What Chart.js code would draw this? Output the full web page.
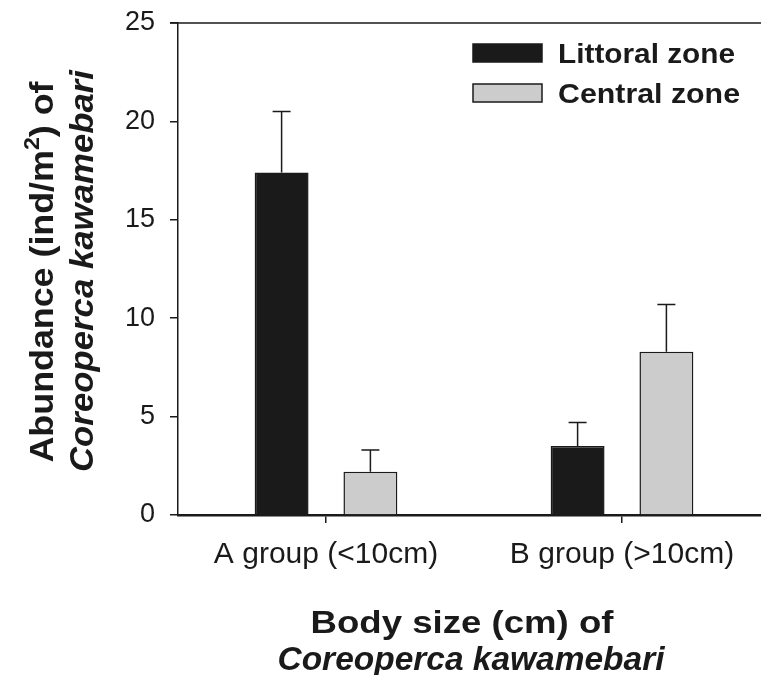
<!DOCTYPE html>
<html>
<head>
<meta charset="utf-8">
<script src="https://cdn.jsdelivr.net/npm/chart.js@4"></script>
<style>
  html, body { margin: 0; padding: 0; background: #fff; overflow: hidden; }
  #wrap { width: 770px; height: 675px; }
</style>
</head>
<body>
<div id="wrap"><canvas id="abundanceChart" width="770" height="675"></canvas></div>
<script>
// values
const groups = ["A group (<10cm)", "B group (>10cm)"];
const littoral = [17.4, 3.5];
const littoralErr = [3.1, 1.2];
const central = [2.2, 8.3];
const centralErr = [1.1, 2.4];
const yTicks = [0, 5, 10, 15, 20, 25];

const ink = "#1a1a1a";
const sans = "'Liberation Sans', Arial, sans-serif";

// draw text centred on cx, squeezed/stretched to a given width
function fitText(ctx, text, cx, baseY, font, width) {
    ctx.save();
    ctx.font = font;
    const w = ctx.measureText(text).width;
    const sx = width / w;
    ctx.translate(cx, baseY);
    ctx.scale(sx, 1);
    ctx.textAlign = "center";
    ctx.textBaseline = "alphabetic";
    ctx.fillStyle = ink;
    ctx.fillText(text, 0, 0);
    ctx.restore();
}

const errorBars = {
    id: "errorBars",
    afterDatasetsDraw(chart) {
        const ctx = chart.ctx;
        const yScale = chart.scales.y;
        const errs = [littoralErr, centralErr];
        ctx.save();
        ctx.strokeStyle = ink;
        ctx.lineWidth = 1.5;
        chart.data.datasets.forEach(function (ds, i) {
            const meta = chart.getDatasetMeta(i);
            meta.data.forEach(function (bar, j) {
                const top = yScale.getPixelForValue(ds.data[j] + errs[i][j]);
                ctx.beginPath();
                ctx.moveTo(bar.x, bar.y);
                ctx.lineTo(bar.x, top);
                ctx.moveTo(bar.x - 9, top);
                ctx.lineTo(bar.x + 9, top);
                ctx.stroke();
            });
        });
        ctx.restore();
    }
};

const frameAndText = {
    id: "frameAndText",
    afterDraw(chart) {
        const ctx = chart.ctx;
        const area = chart.chartArea;

        // top frame line
        ctx.save();
        ctx.strokeStyle = ink;
        ctx.lineWidth = 1.5;
        ctx.beginPath();
        ctx.moveTo(area.left - 8, area.top);
        ctx.lineTo(area.right, area.top);
        ctx.stroke();
        ctx.restore();

        // legend
        const ds = chart.data.datasets;
        const rows = [53, 93];
        ds.forEach(function (d, i) {
            ctx.save();
            ctx.fillStyle = d.backgroundColor;
            ctx.fillRect(473, rows[i] - 9, 69, 18);
            ctx.strokeStyle = ink;
            ctx.lineWidth = 1.5;
            ctx.strokeRect(473, rows[i] - 9, 69, 18);
            ctx.restore();
            const lw = i === 0 ? 177 : 182;
            fitText(ctx, d.label, 558 + lw / 2, rows[i] + 10, "bold 27px " + sans, lw);
        });

        // x title
        fitText(ctx, "Body size (cm) of", 462, 633, "bold 32px " + sans, 303);
        fitText(ctx, "Coreoperca kawamebari", 471, 670, "italic bold 34px " + sans, 387);

        // y title (rotated)
        ctx.save();
        ctx.translate(53, 272);
        ctx.rotate(-Math.PI / 2);
        ctx.fillStyle = ink;
        ctx.textBaseline = "alphabetic";
        const big = "bold 34px " + sans;
        const small = "bold 22px " + sans;
        const parts = [["Abundance (ind/m", big, 0], ["2", small, -14], [") of", big, 0]];
        let total = 0;
        parts.forEach(function (p) { ctx.font = p[1]; total += ctx.measureText(p[0]).width; });
        const scale = 381 / total;
        ctx.scale(scale, 1);
        let x = -total / 2;
        parts.forEach(function (p) {
            ctx.font = p[1];
            ctx.textAlign = "left";
            ctx.fillText(p[0], x, p[2]);
            x += ctx.measureText(p[0]).width;
        });
        ctx.restore();

        ctx.save();
        ctx.translate(93, 271);
        ctx.rotate(-Math.PI / 2);
        fitText(ctx, "Coreoperca kawamebari", 0, 0, "italic bold 34px " + sans, 402);
        ctx.restore();
    }
};

const ctx = document.getElementById("abundanceChart").getContext("2d");
new Chart(ctx, {
    type: "bar",
    data: {
        labels: groups,
        datasets: [{
            label: "Littoral zone",
            data: littoral,
            backgroundColor: ink,
            borderColor: ink,
            borderWidth: 1.5,
            categoryPercentage: 0.6,
            barPercentage: 0.607
        }, {
            label: "Central zone",
            data: central,
            backgroundColor: "#cccccc",
            borderColor: ink,
            borderWidth: 1.5,
            categoryPercentage: 0.6,
            barPercentage: 0.607
        }]
    },
    options: {
        responsive: false,
        animation: false,
        devicePixelRatio: 1,
        layout: { padding: { top: 23, right: 0, left: 0, bottom: 0 } },
        plugins: {
            legend: { display: false },
            tooltip: { enabled: false }
        },
        scales: {
            x: {
                grid: {
                    offset: false,
                    drawOnChartArea: false,
                    tickLength: 8,
                    color: ink,
                    lineWidth: 1.5
                },
                border: { color: ink, width: 2.5 },
                ticks: {
                    color: ink,
                    font: { family: sans, size: 30 },
                    padding: 14,
                    maxRotation: 0
                },
                afterFit(scale) {
                    scale.height = 160;
                    scale.paddingLeft = 0;
                    scale.paddingRight = 0;
                }
            },
            y: {
                min: 0,
                max: 25,
                afterBuildTicks(scale) {
                    scale.ticks = yTicks.map(function (v) { return { value: v }; });
                },
                grid: {
                    drawOnChartArea: false,
                    tickLength: 8,
                    color: ink,
                    lineWidth: 1.5
                },
                border: { color: ink, width: 1.5 },
                ticks: {
                    color: ink,
                    font: { family: sans, size: 27 },
                    padding: 15
                },
                afterFit(scale) {
                    scale.width = 178;
                    scale.paddingTop = 0;
                    scale.paddingBottom = 0;
                }
            }
        }
    },
    plugins: [errorBars, frameAndText]
});
</script>
</body>
</html>
